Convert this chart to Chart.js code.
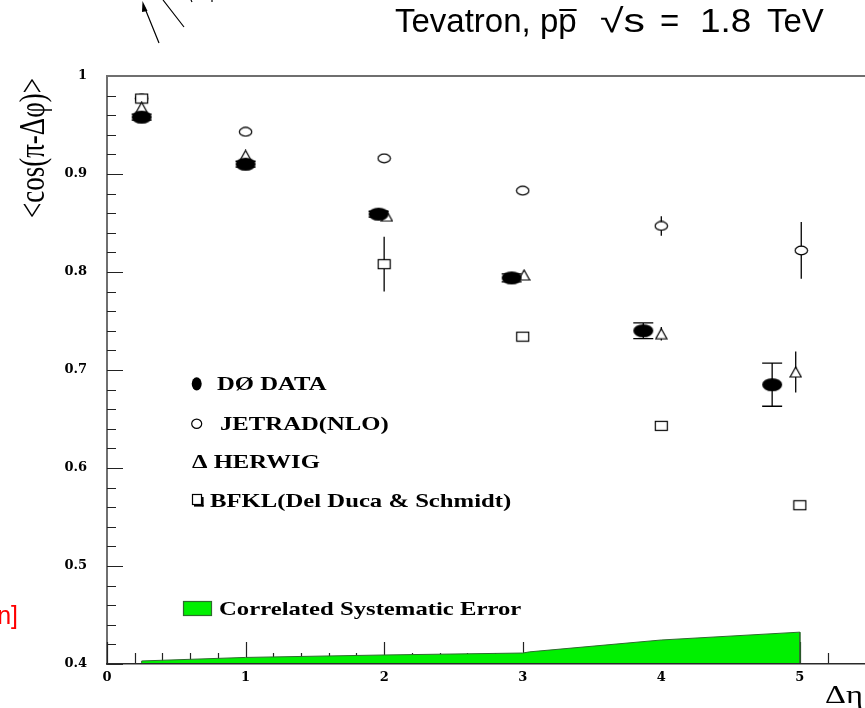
<!DOCTYPE html>
<html>
<head>
<meta charset="utf-8">
<script src="https://cdn.jsdelivr.net/npm/chart.js@4/dist/chart.umd.min.js"></script>
<style>
  html, body { margin: 0; padding: 0; background: #fff; overflow: hidden; }
  canvas { display: block; }
</style>
</head>
<body>
<canvas id="c" width="865" height="708"></canvas>
<script>
// <cos(pi - dphi)> versus rapidity separation, Tevatron 1.8 TeV
const d0Eta = [0.25, 1.00, 1.96, 2.92, 3.87, 4.80];
const d0Cos = [0.958, 0.910, 0.859, 0.794, 0.740, 0.685];
const d0Err = [0.003, 0.003, 0.003, 0.004, 0.008, 0.022];

const jetradEta = [0.25, 1.00, 2.00, 3.00, 4.00, 5.01];
const jetradCos = [0.977, 0.943, 0.916, 0.883, 0.847, 0.822];
const jetradErr = [0, 0, 0, 0, 0.010, 0.029];

const herwigEta = [0.25, 1.00, 2.02, 3.01, 4.00, 4.97];
const herwigCos = [0.968, 0.919, 0.857, 0.797, 0.737, 0.698];
const herwigErr = [0, 0, 0, 0, 0.007, 0.021];

const bfklEta = [0.25, 2.00, 3.00, 4.00, 5.00];
const bfklCos = [0.977, 0.808, 0.734, 0.643, 0.562];
const bfklErr = [0, 0.028, 0, 0, 0];

// correlated systematic error band, filled up from the 0.4 floor
const sysEta = [0.25, 0.25, 1.00, 2.00, 3.00, 3.05, 4.00, 5.00, 5.00];
const sysTop = [0.400, 0.4031, 0.4067, 0.4092, 0.4112, 0.4124, 0.4245, 0.4325, 0.400];

// labelled axis ticks
const xTickLabels = [0, 1, 2, 3, 4, 5];
const yTickLabels = [0.4, 0.5, 0.6, 0.7, 0.8, 0.9, 1.0];

const pts = (xs, ys) => xs.map((x, i) => ({ x: x, y: ys[i] }));
const near = (a, b) => Math.abs(a - b) < 1e-6;

// marker sprites (slightly wide, as in the printed plot)
function marker(kind) {
  const size = { disc: [22, 15], ring: [15, 11], tri: [13, 12], box: [15, 12] }[kind];
  const c = document.createElement('canvas');
  c.width = size[0]; c.height = size[1];
  const g = c.getContext('2d');
  const w = c.width, h = c.height;
  g.lineWidth = 1.2; g.strokeStyle = '#000'; g.fillStyle = '#fff';
  if (kind === 'disc') {
    g.fillStyle = '#000';
    g.beginPath(); g.ellipse(w / 2, h / 2, 10, 6.6, 0, 0, Math.PI * 2); g.fill();
  } else if (kind === 'ring') {
    g.beginPath(); g.ellipse(w / 2, h / 2, 6.2, 4.3, 0, 0, Math.PI * 2); g.fill(); g.stroke();
  } else if (kind === 'tri') {
    g.beginPath(); g.moveTo(w / 2, 1); g.lineTo(w - 1, h - 1); g.lineTo(1, h - 1); g.closePath();
    g.fill(); g.stroke();
  } else {
    g.fillRect(1, 1, w - 2, h - 2); g.strokeRect(1.5, 1.5, w - 3, h - 3);
  }
  return c;
}

function stretchText(ctx, str, x, y, font, sx, align) {
  ctx.save();
  ctx.translate(x, y);
  ctx.scale(sx, 1);
  ctx.font = font;
  ctx.textAlign = align || 'left';
  ctx.fillText(str, 0, 0);
  ctx.restore();
}

// inward tick marks, top frame line and error bars
const frameAndErrors = {
  id: 'frameAndErrors',
  beforeDatasetsDraw(chart) {
    const { ctx, chartArea: a, scales: { x, y } } = chart;
    ctx.save();
    ctx.strokeStyle = '#222';
    ctx.lineWidth = 1.2;
    ctx.beginPath();
    y.ticks.forEach(t => {
      const major = yTickLabels.some(v => near(v, t.value));
      const py = Math.round(y.getPixelForValue(t.value)) + 0.5;
      ctx.moveTo(a.left, py); ctx.lineTo(a.left + (major ? 16 : 9), py);
    });
    x.ticks.forEach(t => {
      if (!near(t.value * 5, Math.round(t.value * 5))) return;
      const major = xTickLabels.some(v => near(v, t.value));
      const px = Math.round(x.getPixelForValue(t.value)) + 0.5;
      ctx.moveTo(px, a.bottom); ctx.lineTo(px, a.bottom - (major ? 22 : 11));
    });
    ctx.stroke();

    ctx.strokeStyle = '#6f6f6f';
    ctx.lineWidth = 2;
    ctx.beginPath(); ctx.moveTo(a.left, a.top); ctx.lineTo(a.right, a.top); ctx.stroke();

    ctx.strokeStyle = '#000';
    ctx.lineWidth = 1.3;
    chart.data.datasets.forEach(ds => {
      if (!ds.errors) return;
      ds.data.forEach((p, i) => {
        const e = ds.errors[i];
        if (!e) return;
        const px = x.getPixelForValue(p.x);
        const top = y.getPixelForValue(p.y + e);
        const bot = y.getPixelForValue(p.y - e);
        ctx.beginPath();
        ctx.moveTo(px, top); ctx.lineTo(px, bot);
        if (ds.capHalf) {
          ctx.moveTo(px - ds.capHalf, top); ctx.lineTo(px + ds.capHalf, top);
          ctx.moveTo(px - ds.capHalf, bot); ctx.lineTo(px + ds.capHalf, bot);
        }
        ctx.stroke();
      });
    });
    ctx.restore();
  }
};

// legend, axis titles and headline
const annotations = {
  id: 'annotations',
  afterDraw(chart) {
    const ctx = chart.ctx;
    const ds = chart.data.datasets;
    const legFont = 'bold 19px "Liberation Serif"';
    ctx.save();
    ctx.fillStyle = '#000';
    ctx.textBaseline = 'alphabetic';

    // legend symbols
    ctx.beginPath(); ctx.ellipse(196.7, 383.8, 5, 6.6, 0, 0, Math.PI * 2); ctx.fill();
    ctx.lineWidth = 1.2; ctx.strokeStyle = '#000';
    ctx.beginPath(); ctx.ellipse(196.7, 423.7, 5, 4.6, 0, 0, Math.PI * 2); ctx.stroke();
    ctx.strokeRect(192.5, 494.5, 9, 10);
    ctx.fillRect(202, 497, 1.6, 9.5);
    ctx.fillRect(194, 505, 9.6, 1.6);

    // legend text
    stretchText(ctx, ds[0].label, 217, 390, legFont, 1.3);
    stretchText(ctx, ds[1].label, 220, 430, legFont, 1.3);
    stretchText(ctx, '\u0394 ' + ds[2].label, 192, 468, legFont, 1.3);
    stretchText(ctx, ds[3].label, 210, 507, legFont, 1.3);

    // band legend entry
    ctx.fillStyle = ds[4].backgroundColor;
    ctx.fillRect(183.5, 601.5, 28, 14);
    ctx.strokeStyle = ds[4].borderColor;
    ctx.strokeRect(183.5, 601.5, 28, 14);
    ctx.fillStyle = '#000';
    stretchText(ctx, ds[4].label, 219, 615, legFont, 1.3);

    // y axis title
    ctx.save();
    ctx.translate(34, 148);
    ctx.rotate(-Math.PI / 2);
    ctx.scale(1, 1.35);
    ctx.font = '27px "Liberation Serif"';
    ctx.textAlign = 'center';
    ctx.textBaseline = 'middle';
    ctx.fillText('<cos(\u03C0-\u0394\u03C6)>', 0, 0);
    ctx.restore();

    // x axis title
    stretchText(ctx, '\u0394\u03B7', 825, 703, '25px "Liberation Serif"', 1.3);

    // headline with anti-proton bar
    const hFont = '33px "Liberation Sans"';
    ctx.font = hFont;
    ctx.textAlign = 'left';
    const hb = 32;
    const w1 = ctx.measureText('Tevatron, p').width;
    const w2 = ctx.measureText('p').width;
    ctx.fillText('Tevatron, p', 395, hb);
    ctx.fillText('p', 395 + w1, hb);
    ctx.fillRect(395 + w1 + 1, 9, w2 - 1, 2);
    stretchText(ctx, '\u221As', 600, hb, hFont, 1.3);
    stretchText(ctx, '=', 660, hb, hFont, 1.0);
    stretchText(ctx, '1.8', 700, hb, hFont, 1.12);
    stretchText(ctx, 'TeV', 767, hb, hFont, 1.0);

    // red fragment on the left margin
    ctx.fillStyle = '#ff0000';
    ctx.font = '25px "Liberation Sans"';
    ctx.textAlign = 'right';
    ctx.fillText('n]', 18, 624);

    // arrow strokes at the top left
    ctx.strokeStyle = '#000';
    ctx.fillStyle = '#000';
    ctx.lineWidth = 1.2;
    ctx.beginPath();
    ctx.moveTo(159, 43); ctx.lineTo(144, 6);
    ctx.moveTo(184, 27); ctx.lineTo(163, 0);
    ctx.moveTo(191, 0); ctx.lineTo(192, 2);
    ctx.moveTo(212, 0); ctx.lineTo(212, 2);
    ctx.stroke();
    ctx.beginPath();
    ctx.moveTo(142.5, 1); ctx.lineTo(147.5, 11); ctx.lineTo(142, 12); ctx.closePath(); ctx.fill();
    ctx.restore();
  }
};

const tickFont = { family: 'DejaVu Serif', size: 13, weight: 'bold' };

new Chart(document.getElementById('c'), {
  type: 'scatter',
  data: {
    datasets: [
      { label: 'D\u00D8 DATA', data: pts(d0Eta, d0Cos), errors: d0Err, capHalf: 10,
        pointStyle: marker('disc'), pointRadius: 6, order: 1 },
      { label: 'JETRAD(NLO)', data: pts(jetradEta, jetradCos), errors: jetradErr,
        pointStyle: marker('ring'), pointRadius: 6, order: 4 },
      { label: 'HERWIG', data: pts(herwigEta, herwigCos), errors: herwigErr,
        pointStyle: marker('tri'), pointRadius: 6, order: 2 },
      { label: 'BFKL(Del Duca & Schmidt)', data: pts(bfklEta, bfklCos), errors: bfklErr,
        pointStyle: marker('box'), pointRadius: 6, order: 3 },
      { label: 'Correlated Systematic Error', data: pts(sysEta, sysTop),
        showLine: true, fill: { value: 0.4 }, tension: 0,
        backgroundColor: '#00f000', borderColor: '#2e6b2e', borderWidth: 1,
        pointRadius: 0, order: 10 }
    ]
  },
  options: {
    responsive: false,
    animation: false,
    events: [],
    layout: { autoPadding: false, padding: { top: 76, left: 0, right: 0, bottom: 0 } },
    plugins: { legend: { display: false }, tooltip: { enabled: false }, title: { display: false } },
    scales: {
      x: {
        type: 'linear', position: 'bottom', min: 0, max: 5.47,
        grid: { display: false, drawTicks: true, tickLength: 6 },
        border: { display: true, color: '#2a2a2a', width: 1.5, z: 1 },
        ticks: {
          stepSize: 0.2, maxTicksLimit: 100, autoSkip: false, maxRotation: 0, minRotation: 0,
          padding: 0, color: '#000', font: tickFont,
          callback: v => xTickLabels.some(t => near(t, v)) ? String(Math.round(v)) : ''
        },
        afterFit: s => { s.height = 44; s.paddingLeft = 0; s.paddingRight = 0; }
      },
      y: {
        type: 'linear', position: 'left', min: 0.4, max: 1.0,
        grid: { display: false, drawTicks: false },
        border: { display: true, color: '#6f6f6f', width: 2 },
        ticks: {
          stepSize: 0.02, maxTicksLimit: 100, autoSkip: false,
          padding: 20, color: '#000', font: tickFont,
          callback: v => {
            const hit = yTickLabels.find(t => near(t, v));
            if (hit === undefined) return '';
            return near(hit, 1) ? '1' : hit.toFixed(1);
          }
        },
        afterFit: s => { s.width = 107; s.paddingTop = 0; s.paddingBottom = 0; }
      }
    }
  },
  plugins: [frameAndErrors, annotations]
});
</script>
</body>
</html>
